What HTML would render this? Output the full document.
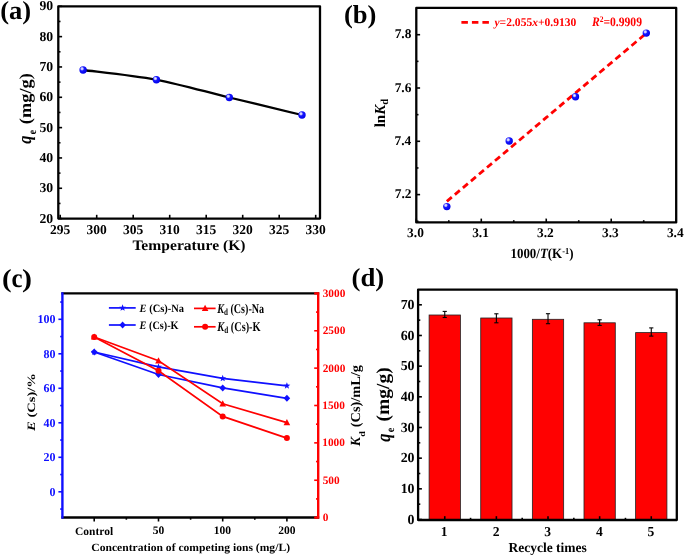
<!DOCTYPE html>
<html><head><meta charset="utf-8"><style>
html,body{margin:0;padding:0;background:#fff;}
svg{display:block;}
</style></head><body>
<svg width="685" height="557" viewBox="0 0 685 557" font-family="Liberation Serif" font-weight="bold" text-rendering="geometricPrecision">
<defs><radialGradient id="ballg" cx="0.36" cy="0.33" r="0.7"><stop offset="0" stop-color="#f0f0ff"/><stop offset="0.22" stop-color="#b8b8ff"/><stop offset="0.4" stop-color="#1818ff"/><stop offset="1" stop-color="#0000e8"/></radialGradient></defs>
<rect width="685" height="557" fill="#fff"/>
<g style="opacity:0.999">
<line x1="58.30" y1="218.60" x2="62.10" y2="218.60" stroke="#000" stroke-width="1.6"/>
<line x1="58.30" y1="203.44" x2="60.50" y2="203.44" stroke="#000" stroke-width="1.6"/>
<line x1="58.30" y1="188.27" x2="62.10" y2="188.27" stroke="#000" stroke-width="1.6"/>
<line x1="58.30" y1="173.11" x2="60.50" y2="173.11" stroke="#000" stroke-width="1.6"/>
<line x1="58.30" y1="157.94" x2="62.10" y2="157.94" stroke="#000" stroke-width="1.6"/>
<line x1="58.30" y1="142.78" x2="60.50" y2="142.78" stroke="#000" stroke-width="1.6"/>
<line x1="58.30" y1="127.61" x2="62.10" y2="127.61" stroke="#000" stroke-width="1.6"/>
<line x1="58.30" y1="112.45" x2="60.50" y2="112.45" stroke="#000" stroke-width="1.6"/>
<line x1="58.30" y1="97.29" x2="62.10" y2="97.29" stroke="#000" stroke-width="1.6"/>
<line x1="58.30" y1="82.12" x2="60.50" y2="82.12" stroke="#000" stroke-width="1.6"/>
<line x1="58.30" y1="66.96" x2="62.10" y2="66.96" stroke="#000" stroke-width="1.6"/>
<line x1="58.30" y1="51.79" x2="60.50" y2="51.79" stroke="#000" stroke-width="1.6"/>
<line x1="58.30" y1="36.63" x2="62.10" y2="36.63" stroke="#000" stroke-width="1.6"/>
<line x1="58.30" y1="21.46" x2="60.50" y2="21.46" stroke="#000" stroke-width="1.6"/>
<line x1="58.30" y1="6.30" x2="62.10" y2="6.30" stroke="#000" stroke-width="1.6"/>
<line x1="60.20" y1="218.60" x2="60.20" y2="214.80" stroke="#000" stroke-width="1.6"/>
<line x1="96.70" y1="218.60" x2="96.70" y2="214.80" stroke="#000" stroke-width="1.6"/>
<line x1="133.20" y1="218.60" x2="133.20" y2="214.80" stroke="#000" stroke-width="1.6"/>
<line x1="169.70" y1="218.60" x2="169.70" y2="214.80" stroke="#000" stroke-width="1.6"/>
<line x1="206.20" y1="218.60" x2="206.20" y2="214.80" stroke="#000" stroke-width="1.6"/>
<line x1="242.70" y1="218.60" x2="242.70" y2="214.80" stroke="#000" stroke-width="1.6"/>
<line x1="279.20" y1="218.60" x2="279.20" y2="214.80" stroke="#000" stroke-width="1.6"/>
<line x1="315.70" y1="218.60" x2="315.70" y2="214.80" stroke="#000" stroke-width="1.6"/>
<rect x="58.3" y="6.3" width="261.7" height="212.29999999999998" fill="none" stroke="#000" stroke-width="2.3" stroke-linejoin="round"/>
<path d="M83.1,70.0 C95.32,71.63 132.03,75.22 156.4,79.8 C180.77,84.38 205.03,91.63 229.3,97.5 C253.57,103.37 289.88,112.08 302.0,115.0" fill="none" stroke="#000" stroke-width="2.3" stroke-linejoin="round"/>
<circle cx="83.10" cy="70.00" r="3.7" fill="url(#ballg)"/>
<circle cx="156.40" cy="79.80" r="3.7" fill="url(#ballg)"/>
<circle cx="229.30" cy="97.50" r="3.7" fill="url(#ballg)"/>
<circle cx="302.00" cy="115.00" r="3.7" fill="url(#ballg)"/>
<line x1="416.30" y1="222.40" x2="416.30" y2="218.60" stroke="#000" stroke-width="1.6"/>
<line x1="448.79" y1="222.40" x2="448.79" y2="220.20" stroke="#000" stroke-width="1.6"/>
<line x1="481.28" y1="222.40" x2="481.28" y2="218.60" stroke="#000" stroke-width="1.6"/>
<line x1="513.76" y1="222.40" x2="513.76" y2="220.20" stroke="#000" stroke-width="1.6"/>
<line x1="546.25" y1="222.40" x2="546.25" y2="218.60" stroke="#000" stroke-width="1.6"/>
<line x1="578.74" y1="222.40" x2="578.74" y2="220.20" stroke="#000" stroke-width="1.6"/>
<line x1="611.22" y1="222.40" x2="611.22" y2="218.60" stroke="#000" stroke-width="1.6"/>
<line x1="643.71" y1="222.40" x2="643.71" y2="220.20" stroke="#000" stroke-width="1.6"/>
<line x1="676.20" y1="222.40" x2="676.20" y2="218.60" stroke="#000" stroke-width="1.6"/>
<line x1="416.30" y1="221.25" x2="418.50" y2="221.25" stroke="#000" stroke-width="1.6"/>
<line x1="416.30" y1="194.60" x2="420.10" y2="194.60" stroke="#000" stroke-width="1.6"/>
<line x1="416.30" y1="167.95" x2="418.50" y2="167.95" stroke="#000" stroke-width="1.6"/>
<line x1="416.30" y1="141.30" x2="420.10" y2="141.30" stroke="#000" stroke-width="1.6"/>
<line x1="416.30" y1="114.65" x2="418.50" y2="114.65" stroke="#000" stroke-width="1.6"/>
<line x1="416.30" y1="88.00" x2="420.10" y2="88.00" stroke="#000" stroke-width="1.6"/>
<line x1="416.30" y1="61.35" x2="418.50" y2="61.35" stroke="#000" stroke-width="1.6"/>
<line x1="416.30" y1="34.70" x2="420.10" y2="34.70" stroke="#000" stroke-width="1.6"/>
<rect x="416.3" y="7.9" width="259.90000000000003" height="214.5" fill="none" stroke="#000" stroke-width="2.3" stroke-linejoin="round"/>
<line x1="446.84" y1="201.37" x2="646.31" y2="33.24" stroke="#f00" stroke-width="2.8" stroke-dasharray="6.5 4"/>
<circle cx="446.84" cy="206.59" r="3.7" fill="url(#ballg)"/>
<circle cx="509.21" cy="141.03" r="3.7" fill="url(#ballg)"/>
<circle cx="575.49" cy="96.79" r="3.7" fill="url(#ballg)"/>
<circle cx="646.31" cy="33.10" r="3.7" fill="url(#ballg)"/>
<line x1="461.4" y1="22.3" x2="490" y2="22.3" stroke="#f00" stroke-width="2.8" stroke-dasharray="6.5 4"/>
<line x1="61.40" y1="293.40" x2="319.20" y2="293.40" stroke="#000" stroke-width="2.3"/>
<line x1="61.40" y1="517.50" x2="319.20" y2="517.50" stroke="#000" stroke-width="2.3"/>
<line x1="62.4" y1="292.25" x2="62.4" y2="518.65" stroke="#1010ff" stroke-width="2.4"/>
<line x1="318.2" y1="292.25" x2="318.2" y2="518.65" stroke="#ff0000" stroke-width="2.4"/>
<line x1="94.20" y1="517.50" x2="94.20" y2="521.50" stroke="#000" stroke-width="1.6"/>
<line x1="158.50" y1="517.50" x2="158.50" y2="521.50" stroke="#000" stroke-width="1.6"/>
<line x1="222.70" y1="517.50" x2="222.70" y2="521.50" stroke="#000" stroke-width="1.6"/>
<line x1="286.90" y1="517.50" x2="286.90" y2="521.50" stroke="#000" stroke-width="1.6"/>
<line x1="126.35" y1="517.50" x2="126.35" y2="519.70" stroke="#000" stroke-width="1.6"/>
<line x1="190.60" y1="517.50" x2="190.60" y2="519.70" stroke="#000" stroke-width="1.6"/>
<line x1="254.80" y1="517.50" x2="254.80" y2="519.70" stroke="#000" stroke-width="1.6"/>
<line x1="62.40" y1="509.05" x2="60.20" y2="509.05" stroke="#1010ff" stroke-width="1.6"/>
<line x1="62.40" y1="491.80" x2="58.40" y2="491.80" stroke="#1010ff" stroke-width="1.6"/>
<line x1="62.40" y1="474.55" x2="60.20" y2="474.55" stroke="#1010ff" stroke-width="1.6"/>
<line x1="62.40" y1="457.30" x2="58.40" y2="457.30" stroke="#1010ff" stroke-width="1.6"/>
<line x1="62.40" y1="440.05" x2="60.20" y2="440.05" stroke="#1010ff" stroke-width="1.6"/>
<line x1="62.40" y1="422.80" x2="58.40" y2="422.80" stroke="#1010ff" stroke-width="1.6"/>
<line x1="62.40" y1="405.55" x2="60.20" y2="405.55" stroke="#1010ff" stroke-width="1.6"/>
<line x1="62.40" y1="388.30" x2="58.40" y2="388.30" stroke="#1010ff" stroke-width="1.6"/>
<line x1="62.40" y1="371.05" x2="60.20" y2="371.05" stroke="#1010ff" stroke-width="1.6"/>
<line x1="62.40" y1="353.80" x2="58.40" y2="353.80" stroke="#1010ff" stroke-width="1.6"/>
<line x1="62.40" y1="336.55" x2="60.20" y2="336.55" stroke="#1010ff" stroke-width="1.6"/>
<line x1="62.40" y1="319.30" x2="58.40" y2="319.30" stroke="#1010ff" stroke-width="1.6"/>
<line x1="62.40" y1="302.05" x2="60.20" y2="302.05" stroke="#1010ff" stroke-width="1.6"/>
<line x1="318.20" y1="517.60" x2="314.20" y2="517.60" stroke="#ff0000" stroke-width="2.3"/>
<line x1="318.20" y1="498.92" x2="316.00" y2="498.92" stroke="#ff0000" stroke-width="1.6"/>
<line x1="318.20" y1="480.24" x2="314.20" y2="480.24" stroke="#ff0000" stroke-width="1.6"/>
<line x1="318.20" y1="461.55" x2="316.00" y2="461.55" stroke="#ff0000" stroke-width="1.6"/>
<line x1="318.20" y1="442.87" x2="314.20" y2="442.87" stroke="#ff0000" stroke-width="1.6"/>
<line x1="318.20" y1="424.19" x2="316.00" y2="424.19" stroke="#ff0000" stroke-width="1.6"/>
<line x1="318.20" y1="405.50" x2="314.20" y2="405.50" stroke="#ff0000" stroke-width="1.6"/>
<line x1="318.20" y1="386.82" x2="316.00" y2="386.82" stroke="#ff0000" stroke-width="1.6"/>
<line x1="318.20" y1="368.14" x2="314.20" y2="368.14" stroke="#ff0000" stroke-width="1.6"/>
<line x1="318.20" y1="349.46" x2="316.00" y2="349.46" stroke="#ff0000" stroke-width="1.6"/>
<line x1="318.20" y1="330.77" x2="314.20" y2="330.77" stroke="#ff0000" stroke-width="1.6"/>
<line x1="318.20" y1="312.09" x2="316.00" y2="312.09" stroke="#ff0000" stroke-width="1.6"/>
<line x1="318.20" y1="293.40" x2="314.20" y2="293.40" stroke="#ff0000" stroke-width="2.3"/>
<polyline points="94.2,352.0 158.5,374.5 222.7,387.9 286.9,398.3" fill="none" stroke="#1010ff" stroke-width="1.7"/>
<polyline points="94.2,352.0 158.5,366.9 222.7,378.4 286.9,385.8" fill="none" stroke="#1010ff" stroke-width="1.7"/>
<polyline points="94.2,337.0 158.5,370.8 222.7,416.4 286.9,438.1" fill="none" stroke="#ff0000" stroke-width="1.7"/>
<polyline points="94.2,337.0 158.5,360.8 222.7,403.8 286.9,422.6" fill="none" stroke="#ff0000" stroke-width="1.7"/>
<polygon points="94.2,348.5 97.5,352.0 94.2,355.5 90.9,352.0" fill="#1010ff"/>
<polygon points="158.5,371.0 161.8,374.5 158.5,378.0 155.2,374.5" fill="#1010ff"/>
<polygon points="222.7,384.4 226.0,387.9 222.7,391.4 219.39999999999998,387.9" fill="#1010ff"/>
<polygon points="286.9,394.8 290.2,398.3 286.9,401.8 283.59999999999997,398.3" fill="#1010ff"/>
<polygon points="94.20,348.40 95.08,350.79 97.62,350.89 95.63,352.46 96.32,354.91 94.20,353.50 92.08,354.91 92.77,352.46 90.78,350.89 93.32,350.79" fill="#1010ff"/>
<polygon points="158.50,363.30 159.38,365.69 161.92,365.79 159.93,367.36 160.62,369.81 158.50,368.40 156.38,369.81 157.07,367.36 155.08,365.79 157.62,365.69" fill="#1010ff"/>
<polygon points="222.70,374.80 223.58,377.19 226.12,377.29 224.13,378.86 224.82,381.31 222.70,379.90 220.58,381.31 221.27,378.86 219.28,377.29 221.82,377.19" fill="#1010ff"/>
<polygon points="286.90,382.20 287.78,384.59 290.32,384.69 288.33,386.26 289.02,388.71 286.90,387.30 284.78,388.71 285.47,386.26 283.48,384.69 286.02,384.59" fill="#1010ff"/>
<circle cx="94.2" cy="337.0" r="3.0" fill="#ff0000"/>
<circle cx="158.5" cy="370.8" r="3.0" fill="#ff0000"/>
<circle cx="222.7" cy="416.4" r="3.0" fill="#ff0000"/>
<circle cx="286.9" cy="438.1" r="3.0" fill="#ff0000"/>
<polygon points="94.2,333.4 97.5,339.6 90.9,339.6" fill="#ff0000"/>
<polygon points="158.5,357.2 161.8,363.40000000000003 155.2,363.40000000000003" fill="#ff0000"/>
<polygon points="222.7,400.2 226.0,406.40000000000003 219.39999999999998,406.40000000000003" fill="#ff0000"/>
<polygon points="286.9,419.0 290.2,425.20000000000005 283.59999999999997,425.20000000000005" fill="#ff0000"/>
<line x1="108.90" y1="307.90" x2="135.70" y2="307.90" stroke="#1010ff" stroke-width="1.7"/>
<polygon points="122.60,304.30 123.48,306.69 126.02,306.79 124.03,308.36 124.72,310.81 122.60,309.40 120.48,310.81 121.17,308.36 119.18,306.79 121.72,306.69" fill="#1010ff"/>
<line x1="108.90" y1="325.00" x2="135.70" y2="325.00" stroke="#1010ff" stroke-width="1.7"/>
<polygon points="122.6,321.5 125.89999999999999,325 122.6,328.5 119.3,325" fill="#1010ff"/>
<line x1="194.00" y1="308.40" x2="215.60" y2="308.40" stroke="#ff0000" stroke-width="1.7"/>
<polygon points="205.1,304.79999999999995 208.4,311.0 201.79999999999998,311.0" fill="#ff0000"/>
<line x1="194.00" y1="326.80" x2="215.60" y2="326.80" stroke="#ff0000" stroke-width="1.7"/>
<circle cx="205.1" cy="326.8" r="3.0" fill="#ff0000"/>
<rect x="429.10" y="315.0" width="31.3" height="205.00" fill="#ff0000" stroke="#222" stroke-width="0.8"/>
<rect x="480.73" y="318.0" width="31.3" height="202.00" fill="#ff0000" stroke="#222" stroke-width="0.8"/>
<rect x="532.36" y="319.3" width="31.3" height="200.70" fill="#ff0000" stroke="#222" stroke-width="0.8"/>
<rect x="583.99" y="322.8" width="31.3" height="197.20" fill="#ff0000" stroke="#222" stroke-width="0.8"/>
<rect x="635.62" y="332.6" width="31.3" height="187.40" fill="#ff0000" stroke="#222" stroke-width="0.8"/>
<line x1="444.75" y1="311.40" x2="444.75" y2="317.50" stroke="#000" stroke-width="1.1"/>
<line x1="442.65" y1="311.40" x2="446.85" y2="311.40" stroke="#000" stroke-width="1.1"/>
<line x1="442.65" y1="317.50" x2="446.85" y2="317.50" stroke="#000" stroke-width="1.1"/>
<line x1="496.38" y1="313.80" x2="496.38" y2="322.80" stroke="#000" stroke-width="1.1"/>
<line x1="494.28" y1="313.80" x2="498.48" y2="313.80" stroke="#000" stroke-width="1.1"/>
<line x1="494.28" y1="322.80" x2="498.48" y2="322.80" stroke="#000" stroke-width="1.1"/>
<line x1="548.01" y1="313.70" x2="548.01" y2="323.70" stroke="#000" stroke-width="1.1"/>
<line x1="545.91" y1="313.70" x2="550.11" y2="313.70" stroke="#000" stroke-width="1.1"/>
<line x1="545.91" y1="323.70" x2="550.11" y2="323.70" stroke="#000" stroke-width="1.1"/>
<line x1="599.64" y1="319.80" x2="599.64" y2="325.40" stroke="#000" stroke-width="1.1"/>
<line x1="597.54" y1="319.80" x2="601.74" y2="319.80" stroke="#000" stroke-width="1.1"/>
<line x1="597.54" y1="325.40" x2="601.74" y2="325.40" stroke="#000" stroke-width="1.1"/>
<line x1="651.27" y1="327.90" x2="651.27" y2="336.10" stroke="#000" stroke-width="1.1"/>
<line x1="649.17" y1="327.90" x2="653.37" y2="327.90" stroke="#000" stroke-width="1.1"/>
<line x1="649.17" y1="336.10" x2="653.37" y2="336.10" stroke="#000" stroke-width="1.1"/>
<line x1="418.10" y1="519.50" x2="421.90" y2="519.50" stroke="#000" stroke-width="1.6"/>
<line x1="418.10" y1="504.17" x2="420.30" y2="504.17" stroke="#000" stroke-width="1.6"/>
<line x1="418.10" y1="488.83" x2="421.90" y2="488.83" stroke="#000" stroke-width="1.6"/>
<line x1="418.10" y1="473.50" x2="420.30" y2="473.50" stroke="#000" stroke-width="1.6"/>
<line x1="418.10" y1="458.16" x2="421.90" y2="458.16" stroke="#000" stroke-width="1.6"/>
<line x1="418.10" y1="442.82" x2="420.30" y2="442.82" stroke="#000" stroke-width="1.6"/>
<line x1="418.10" y1="427.49" x2="421.90" y2="427.49" stroke="#000" stroke-width="1.6"/>
<line x1="418.10" y1="412.15" x2="420.30" y2="412.15" stroke="#000" stroke-width="1.6"/>
<line x1="418.10" y1="396.82" x2="421.90" y2="396.82" stroke="#000" stroke-width="1.6"/>
<line x1="418.10" y1="381.49" x2="420.30" y2="381.49" stroke="#000" stroke-width="1.6"/>
<line x1="418.10" y1="366.15" x2="421.90" y2="366.15" stroke="#000" stroke-width="1.6"/>
<line x1="418.10" y1="350.81" x2="420.30" y2="350.81" stroke="#000" stroke-width="1.6"/>
<line x1="418.10" y1="335.48" x2="421.90" y2="335.48" stroke="#000" stroke-width="1.6"/>
<line x1="418.10" y1="320.14" x2="420.30" y2="320.14" stroke="#000" stroke-width="1.6"/>
<line x1="418.10" y1="304.81" x2="421.90" y2="304.81" stroke="#000" stroke-width="1.6"/>
<line x1="444.75" y1="520.00" x2="444.75" y2="516.20" stroke="#000" stroke-width="1.6"/>
<line x1="496.38" y1="520.00" x2="496.38" y2="516.20" stroke="#000" stroke-width="1.6"/>
<line x1="548.01" y1="520.00" x2="548.01" y2="516.20" stroke="#000" stroke-width="1.6"/>
<line x1="599.64" y1="520.00" x2="599.64" y2="516.20" stroke="#000" stroke-width="1.6"/>
<line x1="651.27" y1="520.00" x2="651.27" y2="516.20" stroke="#000" stroke-width="1.6"/>
<line x1="470.56" y1="520.00" x2="470.56" y2="517.80" stroke="#000" stroke-width="1.6"/>
<line x1="522.19" y1="520.00" x2="522.19" y2="517.80" stroke="#000" stroke-width="1.6"/>
<line x1="573.83" y1="520.00" x2="573.83" y2="517.80" stroke="#000" stroke-width="1.6"/>
<line x1="625.45" y1="520.00" x2="625.45" y2="517.80" stroke="#000" stroke-width="1.6"/>
<rect x="418.1" y="289.6" width="258.69999999999993" height="230.39999999999998" fill="none" stroke="#000" stroke-width="2.3" stroke-linejoin="round"/>
<text x="39.45" y="222.55" font-size="13.7" fill="#000">20</text>
<text x="39.45" y="192.22" font-size="13.7" fill="#000">30</text>
<text x="39.45" y="161.90" font-size="13.7" fill="#000">40</text>
<text x="39.45" y="131.57" font-size="13.7" fill="#000">50</text>
<text x="39.45" y="101.24" font-size="13.7" fill="#000">60</text>
<text x="39.45" y="70.91" font-size="13.7" fill="#000">70</text>
<text x="39.45" y="40.58" font-size="13.7" fill="#000">80</text>
<text x="39.45" y="10.25" font-size="13.7" fill="#000">90</text>
<text x="50.08" y="233.51" font-size="13.5" fill="#000">295</text>
<text x="86.58" y="233.51" font-size="13.5" fill="#000">300</text>
<text x="123.07" y="233.51" font-size="13.5" fill="#000">305</text>
<text x="159.57" y="233.51" font-size="13.5" fill="#000">310</text>
<text x="196.07" y="233.51" font-size="13.5" fill="#000">315</text>
<text x="232.57" y="233.51" font-size="13.5" fill="#000">320</text>
<text x="269.07" y="233.51" font-size="13.5" fill="#000">325</text>
<text x="305.57" y="233.51" font-size="13.5" fill="#000">330</text>
<text transform="translate(0.14,18.72) scale(1.0177,1)" font-size="26.11" fill="#000">(a)</text>
<text transform="translate(132.39,250.34) scale(1.0726,1)" font-size="14.56" fill="#000">Temperature (K)</text>
<text transform="translate(30.78,124.13) rotate(-90) scale(1.0852,1)" font-size="16.92" fill="#000">(mg/g)</text>
<text transform="translate(36.09,134.19) rotate(-90) scale(0.8503,1)" font-size="11.46" fill="#000">e</text>
<text transform="translate(31.49,143.67) rotate(-90) scale(0.8642,1)" font-size="19.12" fill="#000"><tspan font-style="italic">q</tspan></text>
<text x="407.12" y="236.54" font-size="13.4" fill="#000">3.0</text>
<text x="472.17" y="236.54" font-size="13.4" fill="#000">3.1</text>
<text x="537.08" y="236.54" font-size="13.4" fill="#000">3.2</text>
<text x="601.98" y="236.54" font-size="13.4" fill="#000">3.3</text>
<text x="666.89" y="236.54" font-size="13.4" fill="#000">3.4</text>
<text x="394.79" y="198.26" font-size="13.4" fill="#000">7.2</text>
<text x="394.52" y="144.96" font-size="13.4" fill="#000">7.4</text>
<text x="394.65" y="91.66" font-size="13.4" fill="#000">7.6</text>
<text x="394.65" y="38.36" font-size="13.4" fill="#000">7.8</text>
<text transform="translate(494.46,26.24) scale(0.9867,1)" font-size="11.72" fill="#f00"><tspan font-style="italic">y</tspan>=2.055<tspan font-style="italic">x</tspan>+0.9130</text>
<text transform="translate(591.90,25.87) scale(0.8962,1)" font-size="12.96" fill="#f00"><tspan font-style="italic">R</tspan><tspan style="font-size:0.65em" dy="-0.42em">2</tspan><tspan dy="0.273em">=0.9909</tspan></text>
<text transform="translate(343.94,22.86) scale(1.0267,1)" font-size="25.89" fill="#000">(b)</text>
<text transform="translate(510.47,257.75) scale(0.9190,1)" font-size="14.07" fill="#000">1000/<tspan font-style="italic">T</tspan>(K<tspan style="font-size:0.65em" dy="-0.42em">-1</tspan><tspan dy="0.273em">)</tspan></text>
<text transform="translate(385.25,127.30) rotate(-90) scale(0.9808,1)" font-size="15.29" fill="#000">ln<tspan font-style="italic">K</tspan><tspan style="font-size:0.7em" dy="0.22em">d</tspan><tspan dy="-0.154em"></tspan></text>
<text x="49.58" y="495.70" font-size="12.0" fill="#1010ff">0</text>
<text x="43.58" y="461.20" font-size="12.0" fill="#1010ff">20</text>
<text x="43.58" y="426.70" font-size="12.0" fill="#1010ff">40</text>
<text x="43.58" y="392.20" font-size="12.0" fill="#1010ff">60</text>
<text x="43.58" y="357.70" font-size="12.0" fill="#1010ff">80</text>
<text x="37.58" y="323.20" font-size="12.0" fill="#1010ff">100</text>
<text x="322.69" y="521.07" font-size="11.3" fill="#ff0000">0</text>
<text x="322.69" y="483.71" font-size="11.3" fill="#ff0000">500</text>
<text x="322.29" y="446.34" font-size="11.3" fill="#ff0000">1000</text>
<text x="322.29" y="408.98" font-size="11.3" fill="#ff0000">1500</text>
<text x="322.69" y="371.61" font-size="11.3" fill="#ff0000">2000</text>
<text x="322.69" y="334.25" font-size="11.3" fill="#ff0000">2500</text>
<text x="322.69" y="296.87" font-size="11.3" fill="#ff0000">3000</text>
<text transform="translate(139.60,311.94) scale(0.9310,1)" font-size="11.22" fill="#000"><tspan font-style="italic">E</tspan> (Cs)-Na</text>
<text transform="translate(139.60,328.52) scale(0.9032,1)" font-size="11.33" fill="#000"><tspan font-style="italic">E</tspan> (Cs)-K</text>
<text transform="translate(217.30,313.40) scale(0.7565,1)" font-size="13.33" fill="#000"><tspan font-style="italic">K</tspan><tspan style="font-size:0.7em" dy="0.22em">d</tspan><tspan dy="-0.154em"> (Cs)-Na</tspan></text>
<text transform="translate(217.30,330.90) scale(0.7732,1)" font-size="13.33" fill="#000"><tspan font-style="italic">K</tspan><tspan style="font-size:0.7em" dy="0.22em">d</tspan><tspan dy="-0.154em"> (Cs)-K</tspan></text>
<text x="75.04" y="534.73" font-size="11.5" fill="#000">Control</text>
<text x="152.75" y="534.39" font-size="11.5" fill="#000">50</text>
<text x="213.84" y="534.39" font-size="11.5" fill="#000">100</text>
<text x="278.27" y="534.39" font-size="11.5" fill="#000">200</text>
<text transform="translate(91.32,550.66) scale(1.0482,1)" font-size="11.09" fill="#000">Concentration of competing ions (mg/L)</text>
<text transform="translate(1.95,287.06) scale(1.1142,1)" font-size="25.89" fill="#000">(</text>
<text transform="translate(11.55,287.23) scale(0.9183,1)" font-size="27.08" fill="#000">c</text>
<text transform="translate(21.90,287.06) scale(1.1588,1)" font-size="25.89" fill="#000">)</text>
<text transform="translate(34.94,430.95) rotate(-90) scale(1.2965,1)" font-size="11.22" fill="#000"><tspan font-style="italic">E</tspan> (Cs)/%</text>
<text transform="translate(360.30,446.26) rotate(-90) scale(0.9883,1)" font-size="14.00" fill="#000"><tspan font-style="italic">K</tspan></text>
<text transform="translate(364.92,436.70) rotate(-90) scale(1.1864,1)" font-size="8.43" fill="#000">d</text>
<text transform="translate(360.20,427.27) rotate(-90) scale(1.0545,1)" font-size="13.63" fill="#000">(Cs)/mL/g</text>
<text x="407.61" y="523.62" font-size="13.9" fill="#000">0</text>
<text x="400.66" y="492.95" font-size="13.9" fill="#000">10</text>
<text x="400.66" y="462.28" font-size="13.9" fill="#000">20</text>
<text x="400.66" y="431.61" font-size="13.9" fill="#000">30</text>
<text x="400.66" y="400.94" font-size="13.9" fill="#000">40</text>
<text x="400.66" y="370.27" font-size="13.9" fill="#000">50</text>
<text x="400.66" y="339.60" font-size="13.9" fill="#000">60</text>
<text x="400.66" y="308.93" font-size="13.9" fill="#000">70</text>
<text x="440.85" y="536.48" font-size="13.6" fill="#000">1</text>
<text x="492.68" y="536.48" font-size="13.6" fill="#000">2</text>
<text x="544.24" y="536.48" font-size="13.6" fill="#000">3</text>
<text x="596.01" y="536.48" font-size="13.6" fill="#000">4</text>
<text x="647.57" y="536.34" font-size="13.6" fill="#000">5</text>
<text transform="translate(508.43,552.23) scale(0.9896,1)" font-size="13.67" fill="#000">Recycle times</text>
<text transform="translate(351.53,286.36) scale(1.0334,1)" font-size="25.89" fill="#000">(d)</text>
<text transform="translate(389.44,421.38) rotate(-90) scale(1.0551,1)" font-size="18.46" fill="#000">(mg/g)</text>
<text transform="translate(394.39,432.21) rotate(-90) scale(0.8951,1)" font-size="11.46" fill="#000">e</text>
<text transform="translate(389.76,441.86) rotate(-90) scale(0.8274,1)" font-size="19.71" fill="#000"><tspan font-style="italic">q</tspan></text>
</g>
</svg>
</body></html>
